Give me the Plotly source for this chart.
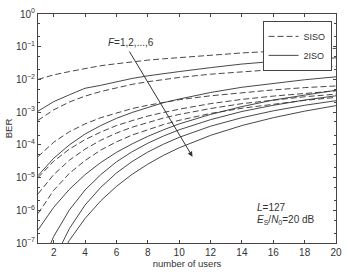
import numpy as np
import plotly.graph_objects as go

users = [1, 2, 3, 4, 5, 6, 7, 8, 9, 10, 12, 14, 16, 18, 20]

# log10(BER)
siso = {
    1: [-2.0, -1.86, -1.76, -1.66, -1.58, -1.52, -1.46, -1.41, -1.37, -1.33, -1.26, -1.19, -1.14, -1.09, -1.05],
    2: [-3.25, -2.93, -2.69, -2.51, -2.37, -2.25, -2.15, -2.07, -2.0, -1.94, -1.84, -1.76, -1.7, -1.64, -1.6],
    3: [-4.36, -3.92, -3.6, -3.36, -3.17, -3.02, -2.89, -2.79, -2.7, -2.62, -2.5, -2.4, -2.32, -2.25, -2.2],
    4: [-5.0, -4.5, -4.13, -3.84, -3.61, -3.41, -3.26, -3.12, -3.01, -2.91, -2.74, -2.61, -2.51, -2.42, -2.35],
    5: [-5.5, -4.91, -4.47, -4.13, -3.86, -3.64, -3.46, -3.31, -3.18, -3.07, -2.89, -2.74, -2.63, -2.53, -2.45],
    6: [-6.1, -5.39, -4.87, -4.48, -4.16, -3.91, -3.7, -3.53, -3.38, -3.25, -3.04, -2.88, -2.75, -2.64, -2.55],
}
iso2 = {
    1: [-2.97, -2.68, -2.47, -2.27, -2.18, -2.07, -1.97, -1.89, -1.82, -1.76, -1.64, -1.53, -1.45, -1.39, -1.34],
    2: [-4.94, -4.41, -4.0, -3.67, -3.41, -3.19, -3.01, -2.85, -2.71, -2.6, -2.4, -2.24, -2.12, -2.01, -1.92],
    3: [-6.6, -5.91, -5.36, -4.91, -4.54, -4.23, -3.97, -3.74, -3.54, -3.36, -3.07, -2.83, -2.63, -2.47, -2.33],
    4: [-7.93, -6.8, -5.99, -5.38, -4.91, -4.52, -4.21, -3.95, -3.73, -3.54, -3.23, -2.98, -2.79, -2.63, -2.5],
    5: [-8.5, -7.52, -6.56, -5.84, -5.3, -4.86, -4.51, -4.22, -3.98, -3.77, -3.43, -3.17, -2.96, -2.79, -2.65],
    6: [-9.0, -7.79, -6.92, -6.25, -5.71, -5.27, -4.9, -4.59, -4.32, -4.09, -3.71, -3.41, -3.17, -2.97, -2.8],
}

ytick_vals = [1e0, 1e-1, 1e-2, 1e-3, 1e-4, 1e-5, 1e-6, 1e-7]
ytick_text = ["10<sup>0</sup>", "10<sup>\u22121</sup>", "10<sup>\u22122</sup>", "10<sup>\u22123</sup>",
              "10<sup>\u22124</sup>", "10<sup>\u22125</sup>", "10<sup>\u22126</sup>", "10<sup>\u22127</sup>"]
xtick_vals = [2, 4, 6, 8, 10, 12, 14, 16, 18, 20]

LC = "#333333"
FONT = "Liberation Sans, Arial, sans-serif"

fig = go.Figure()
for f in range(1, 7):
    fig.add_trace(go.Scatter(x=users, y=np.power(10.0, siso[f]), mode="lines",
                             line=dict(color=LC, width=0.9, dash="6px,3px"),
                             name="SISO", showlegend=(f == 1), legendrank=1))
for f in range(1, 7):
    fig.add_trace(go.Scatter(x=users, y=np.power(10.0, iso2[f]), mode="lines",
                             line=dict(color=LC, width=0.9),
                             name="2ISO", showlegend=(f == 1), legendrank=2))

fig.update_layout(
    width=349, height=275,
    margin=dict(l=38, r=8, t=7, b=27),
    paper_bgcolor="white", plot_bgcolor="white",
    font=dict(family=FONT, size=10, color="#333"),
    legend=dict(x=0.985, y=0.97, xanchor="right", yanchor="top",
                bordercolor="#444", borderwidth=1, bgcolor="white",
                font=dict(size=9), itemwidth=30, tracegroupgap=0),
)
fig.update_xaxes(range=[1, 20], tickvals=xtick_vals, ticks="inside", ticklen=3,
                 showline=True, linecolor="#444", linewidth=1, mirror="ticks",
                 showgrid=False, zeroline=False, tickfont=dict(size=10),
                 title=dict(text="number of users", font=dict(size=9.5), standoff=3))
fig.update_yaxes(type="log", range=[-7, 0], tickvals=ytick_vals, ticktext=ytick_text,
                 ticks="inside", ticklen=3, showline=True, linecolor="#444", linewidth=1,
                 mirror="ticks", showgrid=False, zeroline=False, tickfont=dict(size=10),
                 minor=dict(ticks="inside", ticklen=2, showgrid=False, tickcolor="#444"),
                 title=dict(text="BER", font=dict(size=9.5), standoff=1))

fig.add_annotation(x=10.85, y=-4.36, ax=6.77, ay=-1.1, xref="x", yref="y", axref="x", ayref="y",
                   showarrow=True, arrowhead=2, arrowsize=1, arrowwidth=1, arrowcolor="#333", text="")
fig.add_annotation(x=6.9, y=-0.87, xref="x", yref="y", showarrow=False,
                   text="<i>F</i>=1,2,...,6", font=dict(size=10))
fig.add_annotation(x=14.86, y=-5.9, xref="x", yref="y", showarrow=False, xanchor="left",
                   text="<i>L</i>=127", font=dict(size=10))
fig.add_annotation(x=14.86, y=-6.31, xref="x", yref="y", showarrow=False, xanchor="left",
                   text="<i>E</i><sub>S</sub>/<i>N</i><sub>0</sub>=20 dB", font=dict(size=10))

fig.write_html("out.html")
